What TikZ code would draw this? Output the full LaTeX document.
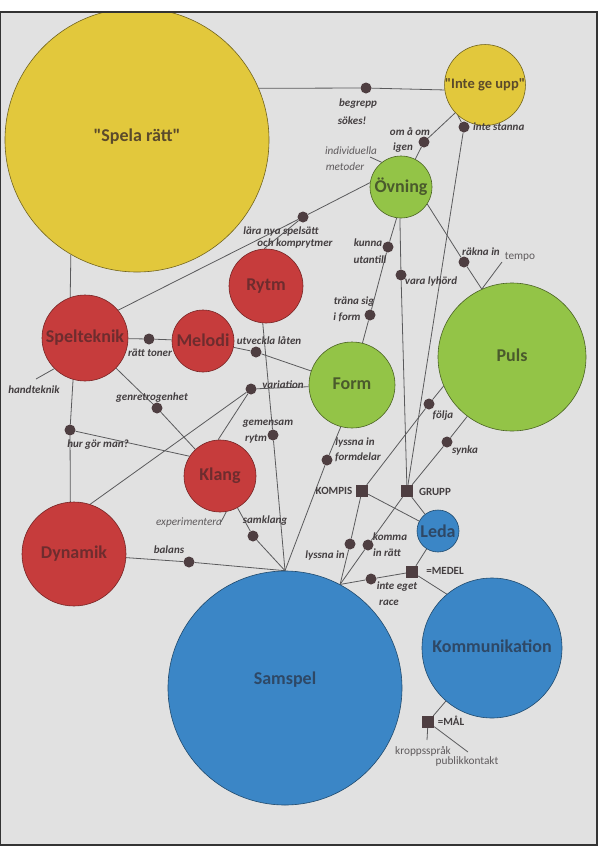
\documentclass[tikz,border=0pt]{standalone}
\usepackage{fontspec}
\setmainfont{Carlito}
\definecolor{bgc}{HTML}{E1E1E1}
\definecolor{cy}{HTML}{E2C83C}
\definecolor{cr}{HTML}{C63C3C}
\definecolor{cg}{HTML}{93C447}
\definecolor{cb}{HTML}{3B86C6}
\definecolor{dotc}{HTML}{4E3E41}
\definecolor{linec}{HTML}{5A5A5C}
\definecolor{lbl}{HTML}{433E40}
\definecolor{tY}{HTML}{5B4A2B}
\definecolor{tR}{HTML}{6E2C2E}
\definecolor{tG}{HTML}{4A5A2C}
\definecolor{tB}{HTML}{2E4866}
\pgfdeclarelayer{back}
\pgfdeclarelayer{lines}
\pgfdeclarelayer{front}
\pgfsetlayers{back,lines,main,front}
\begin{document}
\begin{tikzpicture}[x=1pt,y=-1pt,
  bub/.style={circle,inner sep=0pt,line width=0.6pt,font=\bfseries\fontsize{18}{18}\selectfont},
  yb/.style={bub,fill=cy,draw=cy!50!black,text=tY},
  rb/.style={bub,fill=cr,draw=cr!60!black,text=tR},
  gb/.style={bub,fill=cg,draw=cg!50!black,text=tG},
  bb/.style={bub,fill=cb,draw=cb!55!black,text=tB},
  dotn/.style={circle,fill=dotc,inner sep=0pt,minimum size=11pt},
  sqn/.style={rectangle,fill=dotc,inner sep=0pt,minimum size=12pt},
  conn/.style={draw=linec,line width=0.8pt},
  lab/.style={font=\bfseries\itshape\fontsize{11}{11}\selectfont,text=lbl,inner sep=0pt},
  clab/.style={font=\bfseries\fontsize{11}{11}\selectfont,text=lbl,inner sep=0pt},
  ilab/.style={font=\itshape\fontsize{11.2}{11}\selectfont,text=lbl!85!white,inner sep=0pt},
  plab/.style={font=\fontsize{11.3}{11}\selectfont,text=lbl!85!white,inner sep=0pt}]
\useasboundingbox (0,0) rectangle (600,846);
\begin{pgfonlayer}{back}
\fill[bgc] (0,12) rectangle (597,845);
\end{pgfonlayer}

% bubbles
\node[yb,minimum size=264pt] (spela) at (137,140) {\raisebox{9pt}{\textquotedbl Spela rätt\textquotedbl}};
\node[yb,minimum size=48pt,font=\bfseries\fontsize{14.5}{14}\selectfont] (inte) at (485,85) {\textquotedbl Inte ge upp\textquotedbl};
\node[gb,minimum size=62pt] (ovning) at (401,187) {\raisebox{3pt}{Övning}};
\node[rb,minimum size=74pt] (rytm) at (266,286) {\raisebox{2pt}{Rytm}};
\node[rb,minimum size=86pt] (spelteknik) at (85,338) {\raisebox{3pt}{Spelteknik}};
\node[rb,minimum size=62pt] (melodi) at (203,341) {\raisebox{2pt}{Melodi}};
\node[gb,minimum size=86pt] (form) at (352,385) {\raisebox{2pt}{Form}};
\node[gb,minimum size=148pt] (puls) at (512,357) {\raisebox{3pt}{Puls}};
\node[rb,minimum size=72pt] (klang) at (220,476) {\raisebox{3pt}{Klang}};
\node[rb,minimum size=104pt] (dynamik) at (74,554) {Dynamik};
\node[bb,minimum size=234pt] (samspel) at (285,688) {\raisebox{20pt}{Samspel}};
\node[bb,minimum size=42pt] (leda) at (438,531) {Leda};
\node[bb,minimum size=140pt] (komm) at (492,648) {\raisebox{3pt}{Kommunikation}};

% dots and squares
\node[dotn] (dBeg) at (366,88) {};
\node[dotn] (dOm) at (424,142) {};
\node[dotn] (dStan) at (464,127) {};
\node[dotn] (dLara) at (303,217) {};
\node[dotn] (dRatt) at (149,339) {};
\node[dotn] (dUtv) at (256,352) {};
\node[dotn] (dVar) at (251,389) {};
\node[dotn] (dGem) at (273,435) {};
\node[dotn] (dGenre) at (157,408) {};
\node[dotn] (dHur) at (70,430) {};
\node[dotn] (dSamk) at (253,536) {};
\node[dotn] (dBal) at (189,562) {};
\node[dotn] (dRak) at (464,262) {};
\node[dotn] (dKun) at (388,247) {};
\node[dotn] (dTra) at (370,315) {};
\node[dotn] (dVara) at (401,275) {};
\node[dotn] (dFol) at (429,404) {};
\node[dotn] (dSyn) at (447,442) {};
\node[dotn] (dForm) at (327,460) {};
\node[dotn] (dLys) at (350,544) {};
\node[dotn] (dKom) at (368,545) {};
\node[dotn] (dInte) at (371,579) {};
\node[sqn] (kompis) at (362,491) {};
\node[sqn] (grupp) at (407,491) {};
\node[sqn] (medel) at (412,572) {};
\node[sqn] (mal) at (428,722) {};

\coordinate (hand) at (36,379);
\coordinate (expe) at (221,522);
\coordinate (tempoEnd) at (502,262);
\coordinate (kropEnd) at (427,740);
\coordinate (pubEnd) at (468,752);
\coordinate (indEnd) at (370,157);

\begin{pgfonlayer}{lines}
\draw[conn] (spela.23) -- (dBeg) -- (inte.187);
\draw[conn] (inte) -- (dOm) -- (ovning);
\draw[conn] (inte.228) -- (dStan) -- (grupp);
\draw[conn] (ovning.172) -- (dLara) -- (spelteknik.40);
\draw[conn] (dLara) -- (rytm.93);
\draw[conn] (spela.240) -- (spelteknik.110);
\draw[conn] (spelteknik) -- (dRatt) -- (melodi);
\draw[conn] (melodi) -- (dUtv) -- (form);
\draw[conn] (form) -- (dVar);
\draw[conn] (dVar) -- (dynamik.72);
\draw[conn] (dVar) -- (klang.93);
\draw[conn] (rytm.265) -- (dGem) -- (samspel.north);
\draw[conn] (spelteknik) -- (dGenre) -- (klang);
\draw[conn] (spelteknik.254) -- (dHur) -- (dynamik.94);
\draw[conn] (dHur) -- (klang.147);
\draw[conn] (spelteknik.225) -- (hand);
\draw[conn] (klang) -- (dSamk) -- (samspel.north);
\draw[conn] (klang.280) -- (expe);
\draw[conn] (dynamik) -- (dBal) -- (samspel.north);
\draw[conn] (ovning.327) -- (dRak) -- (puls.114);
\draw[conn] (puls.114) -- (tempoEnd);
\draw[conn] (ovning.262) -- (dKun) -- (dTra) -- (form.76);
\draw[conn] (ovning.268) -- (dVara) -- (grupp);
\draw[conn] (puls.203) -- (dFol) -- (kompis);
\draw[conn] (puls.233) -- (dSyn) -- (grupp);
\draw[conn] (form.255) -- (dForm) -- (samspel.north);
\draw[conn] (kompis) -- (dLys) -- (samspel.62);
\draw[conn] (grupp) -- (dKom) -- (samspel.62);
\draw[conn] (kompis) -- (leda);
\draw[conn] (grupp) -- (leda);
\draw[conn] (leda) -- (medel);
\draw[conn] (medel) -- (dInte) -- (samspel.62);
\draw[conn] (medel) -- (komm.130);
\draw[conn] (mal) -- (komm.229);
\draw[conn] (mal) -- (kropEnd);
\draw[conn] (mal) -- (pubEnd);
\draw[conn] (ovning.128) -- (indEnd);
\end{pgfonlayer}

% labels
\node[lab] (tBeg1) at (358,104) {begrepp};
\node[lab] (tBeg2) at (352,121) {sökes!};
\node[lab] (tOm1) at (410,132) {om å om};
\node[lab] (tOm2) at (403,148) {igen};
\node[lab,anchor=west] (tStan) at (473,127) {inte stanna};
\node[ilab] (tInd1) at (351,151) {individuella};
\node[ilab] (tInd2) at (345,167) {metoder};
\node[lab] (tLar1) at (281,232) {lära nya spelsätt};
\node[lab] (tLar2) at (295,244) {och komprytmer};
\node[lab] (tKun1) at (368,243) {kunna};
\node[lab] (tKun2) at (370,260) {utantill};
\node[lab] (tVara) at (431,282) {vara lyhörd};
\node[lab] (tRak) at (481,252) {räkna in};
\node[plab] (tTempo) at (520,257) {tempo};
\node[lab] (tTra1) at (354,302) {träna sig};
\node[lab] (tTra2) at (347,317) {i form};
\node[lab] (tRatt) at (150,353) {rätt toner};
\node[lab] (tUtv) at (269,341) {utveckla låten};
\node[lab] (tVar) at (283,385) {variation};
\node[lab] (tHand) at (34,390) {handteknik};
\node[lab] (tGenre) at (152,398) {genretrogenhet};
\node[lab] (tGem1) at (268,424) {gemensam};
\node[lab] (tGem2) at (256,439) {rytm};
\node[lab] (tHur) at (98,445) {hur gör man?};
\node[lab] (tLysF1) at (355,442) {lyssna in};
\node[lab] (tLysF2) at (358,457) {formdelar};
\node[lab] (tFol) at (443,416) {följa};
\node[lab] (tSyn) at (465,450) {synka};
\node[clab] (tKompis) at (334,491) {KOMPIS};
\node[clab] (tGrupp) at (435,492) {GRUPP};
\node[ilab] (tExp) at (189,523) {experimentera};
\node[lab] (tSamk) at (265,521) {samklang};
\node[lab] (tBal) at (169,550) {balans};
\node[lab] (tLys) at (325,555) {lyssna in};
\node[lab] (tKom1) at (390,537) {komma};
\node[lab] (tKom2) at (387,553) {in rätt};
\node[clab] (tMedel) at (445,571) {=MEDEL};
\node[lab] (tInte1) at (397,587) {inte eget};
\node[lab] (tInte2) at (389,603) {race};
\node[clab] (tMal) at (451,721) {=MÅL};
\node[plab] (tKrop) at (423,751) {kroppsspråk};
\node[plab] (tPub) at (467,761) {publikkontakt};

\begin{pgfonlayer}{front}
\fill[white] (0,0) rectangle (600,11.6);
\draw[black!80,line width=1.2pt] (0.6,12) rectangle (597,845);
\end{pgfonlayer}
\end{tikzpicture}
\end{document}
